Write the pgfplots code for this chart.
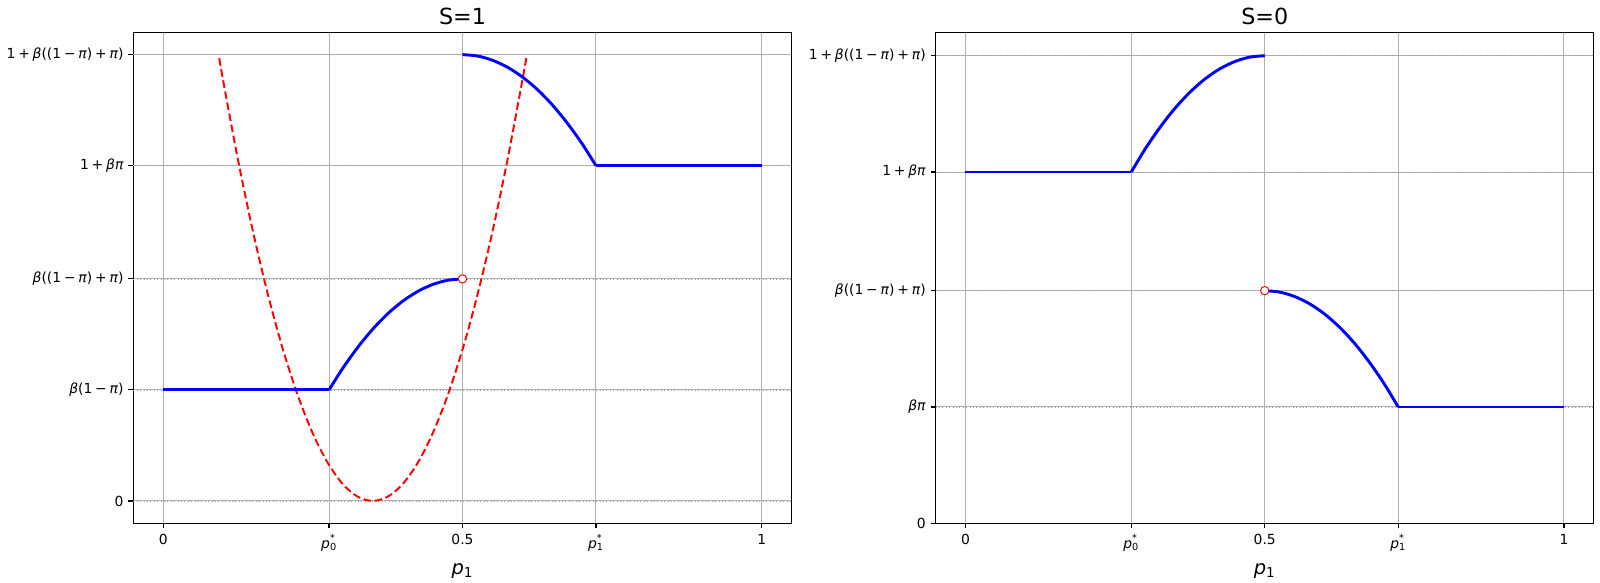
\documentclass[border=0pt]{standalone}
\usepackage{pgfplots}
\pgfplotsset{compat=1.18}
\usepackage{fontspec}
\setmainfont{DejaVu Sans}
\newcommand{\mi}[1]{\textit{#1}}
\newcommand{\op}[1]{\hspace{0.2em}#1\hspace{0.2em}}
\newcommand{\pst}[1]{\mi{p}\makebox[0pt][l]{\raisebox{0.9ex}{\scriptsize *}}\textsubscript{#1}}
\definecolor{mplgrid}{HTML}{B0B0B0}
\pgfplotsset{
  myaxis/.style={
    scale only axis, width=474pt, height=353.5pt,
    xmin=-0.05, xmax=1.05, ymax=2.0895,
    axis line style={line width=0.8pt},
    tick align=outside, xtick pos=left, ytick pos=left,
    major tick length=3.5pt, tick style={black, line width=0.8pt},
    xtick={0,0.277,0.5,0.723,1},
    xticklabels={0, \pst{0}, 0.5, \pst{1}, 1},
    tick label style={font=\fontsize{10}{12}\selectfont},
    xticklabel style={yshift=-1pt},
    xlabel={\mi{p}\textsubscript{1}},
    xlabel style={font=\fontsize{14}{16}\selectfont, yshift=-2pt},
    title style={font=\fontsize{16}{19}\selectfont, yshift=-4pt},
    xmajorgrids, ymajorgrids,
    major grid style={mplgrid, line width=0.7pt},
    clip=false,
  },
  blueline/.style={blue, line width=2.1pt, no marks, line join=round, line cap=butt},
  dots/.style={gray!75, dotted, line width=0.45pt, no marks},
  hole/.style={only marks, mark=*, mark size=3pt, mark options={draw=red, fill=white, line width=0.7pt}},
}
\begin{document}
\begin{tikzpicture}
\useasboundingbox (0,0) rectangle (1152pt,419.76pt);
% ---------- S=1 ----------
\begin{axis}[myaxis, at={(96pt,43pt)}, anchor=south west, ymin=-0.0995,
  title={S=1},
  ytick={0,0.495,0.99,1.495,1.99},
  yticklabels={0, \mi{β}(1\op{−}\mi{π}), \mi{β}((1\op{−}\mi{π})\op{+}\mi{π}), 1\op{+}\mi{β}\mi{π}, 1\op{+}\mi{β}((1\op{−}\mi{π})\op{+}\mi{π})}]
\addplot[dots] coordinates {(-0.05,0) (1.05,0)};
\addplot[dots] coordinates {(-0.05,0.495) (1.05,0.495)};
\addplot[dots] coordinates {(-0.05,0.99) (1.05,0.99)};
\addplot[dots] coordinates {(-0.05,1.495) (1.05,1.495)};
\addplot[dots] coordinates {(-0.05,1.99) (1.05,1.99)};
\addplot[red, dash pattern=on 5.5pt off 2.6pt, line width=1.4pt, smooth] coordinates {
(0.0935,1.974) (0.1,1.875) (0.125,1.519) (0.15,1.2) (0.175,0.919) (0.2,0.675)
(0.225,0.469) (0.25,0.3) (0.275,0.169) (0.3,0.075) (0.325,0.019) (0.35,0)
(0.375,0.019) (0.4,0.075) (0.425,0.169) (0.45,0.3) (0.475,0.469) (0.5,0.675)
(0.525,0.919) (0.55,1.2) (0.575,1.519) (0.6,1.875) (0.6065,1.974)};
\addplot[blueline] coordinates {(0,0.495) (0.277,0.495)};
\addplot[blueline, smooth] coordinates {
(0.277,0.495) (0.3,0.592) (0.325,0.685) (0.35,0.766) (0.375,0.8345)
(0.4,0.8905) (0.425,0.934) (0.45,0.965) (0.475,0.9838) (0.5,0.99)};
\addplot[blueline, smooth] coordinates {
(0.5,1.99) (0.525,1.9838) (0.55,1.965) (0.575,1.934) (0.6,1.8905)
(0.625,1.8345) (0.65,1.766) (0.675,1.685) (0.7,1.592) (0.723,1.495)};
\addplot[blueline] coordinates {(0.723,1.495) (1,1.495)};
\addplot[hole] coordinates {(0.5,0.99)};
\end{axis}
% ---------- S=0 ----------
\begin{axis}[myaxis, at={(673.6pt,43pt)}, anchor=south west, ymin=0,
  title={S=0},
  ytick={0,0.495,0.99,1.495,1.99},
  yticklabels={0, \mi{β}\mi{π}, \mi{β}((1\op{−}\mi{π})\op{+}\mi{π}), 1\op{+}\mi{β}\mi{π}, 1\op{+}\mi{β}((1\op{−}\mi{π})\op{+}\mi{π})}]
\addplot[dots] coordinates {(-0.05,0.495) (1.05,0.495)};
\addplot[dots] coordinates {(-0.05,0.99) (1.05,0.99)};
\addplot[dots] coordinates {(-0.05,1.495) (1.05,1.495)};
\addplot[dots] coordinates {(-0.05,1.99) (1.05,1.99)};
\addplot[blueline] coordinates {(0,1.495) (0.277,1.495)};
\addplot[blueline, smooth] coordinates {
(0.277,1.495) (0.3,1.592) (0.325,1.685) (0.35,1.766) (0.375,1.8345)
(0.4,1.8905) (0.425,1.934) (0.45,1.965) (0.475,1.9838) (0.5,1.99)};
\addplot[blueline, smooth] coordinates {
(0.5,0.99) (0.525,0.9838) (0.55,0.965) (0.575,0.934) (0.6,0.8905)
(0.625,0.8345) (0.65,0.766) (0.675,0.685) (0.7,0.592) (0.723,0.495)};
\addplot[blueline] coordinates {(0.723,0.495) (1,0.495)};
\addplot[hole] coordinates {(0.5,0.99)};
\end{axis}
\end{tikzpicture}
\end{document}
